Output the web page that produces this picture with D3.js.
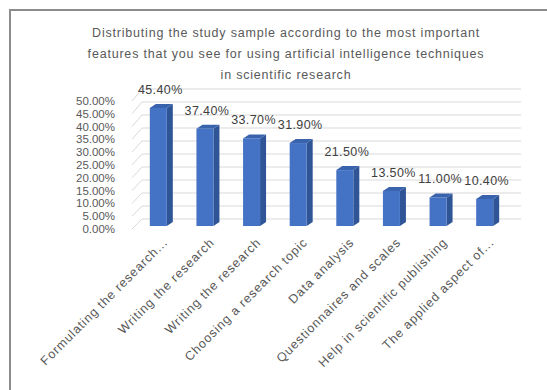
<!DOCTYPE html>
<html>
<head>
<meta charset="utf-8">
<script src="https://cdn.jsdelivr.net/npm/d3@7"></script>
<style>
    body { margin: 0; background: #fff; }
    text { font-family: "Liberation Sans", "DejaVu Sans", sans-serif; fill: #595959; }
</style>
</head>
<body>
<svg id="chart" width="547" height="390"></svg>
<script>
var categories = [
    'Formulating the research...',
    'Writing the research',
    'Writing the research',
    'Choosing a research topic',
    'Data analysis',
    'Questionnaires and scales',
    'Help in scientific publishing',
    'The applied aspect of...'
];
var values = [45.4, 37.4, 33.7, 31.9, 21.5, 13.5, 11.0, 10.4];
var ticks = [0, 5, 10, 15, 20, 25, 30, 35, 40, 45, 50];
var titleLines = [
    'Distributing the study sample  according to the most important',
    'features  that you see for using artificial  intelligence  techniques',
    'in scientific research'
];

(function(){
    var svg = d3.select('#chart'),
        depthX = 10,
        barW = 17,
        sideW = 6,
        topH = 4;

    // outer frame
    svg.append('rect')
        .attr('x', 10).attr('y', 10)
        .attr('width', 560).attr('height', 400)
        .attr('fill', '#fff')
        .attr('stroke', '#8c8c8c')
        .attr('stroke-width', 2);

    svg.append('g').selectAll('text')
        .data(titleLines)
        .enter().append('text')
        .attr('x', 286)
        .attr('y', function(d, i) { return 37 + i * 21; })
        .attr('text-anchor', 'middle')
        .style('font-size', '12.5px')
        .style('letter-spacing', '0.8px')
        .text(function(d) { return d; });

    var x = d3.scaleBand()
        .domain(d3.range(categories.length))
        .range([136, 509]);

    // front edge of the floor (tick labels), back wall, bar faces
    var yFront = d3.scaleLinear().domain([0, 50]).range([229, 101]);
    var yBack = d3.scaleLinear().domain([0, 50]).range([219, 89]);
    var yBar = d3.scaleLinear().domain([0, 50]).range([226, 96]);

    var grid = svg.append('g');
    grid.selectAll('line.h')
        .data(ticks)
        .enter().append('line')
        .attr('class', 'h')
        .attr('x1', 132 + depthX).attr('x2', 521)
        .attr('y1', function(d) { return yBack(d); })
        .attr('y2', function(d) { return yBack(d); })
        .attr('stroke', '#d9d9d9')
        .attr('stroke-width', 1);
    grid.selectAll('line.s')
        .data(ticks)
        .enter().append('line')
        .attr('class', 's')
        .attr('x1', 132).attr('x2', 132 + depthX)
        .attr('y1', function(d) { return yFront(d); })
        .attr('y2', function(d) { return yBack(d); })
        .attr('stroke', '#d9d9d9')
        .attr('stroke-width', 1);

    svg.append('g').selectAll('text')
        .data(ticks)
        .enter().append('text')
        .attr('x', 115)
        .attr('y', function(d) { return yFront(d); })
        .attr('dy', '0.35em')
        .attr('text-anchor', 'end')
        .style('font-size', '11.5px')
        .text(function(d) { return d.toFixed(2) + '%'; });

    var bars = svg.append('g').selectAll('g')
        .data(values)
        .enter().append('g');

    function left(i) { return x(i) + x.bandwidth() / 2 - (barW + sideW) / 2 + 2; }

    bars.append('path')
        .attr('fill', '#2f5597')
        .attr('d', function(d, i) {
            var x0 = left(i) + barW, t = yBar(d), b = yBar(0);
            return 'M' + x0 + ',' + t + 'L' + (x0 + sideW) + ',' + (t - topH) +
                'L' + (x0 + sideW) + ',' + (b - topH) + 'L' + x0 + ',' + b + 'Z';
        });
    bars.append('path')
        .attr('fill', '#3a63ad')
        .attr('d', function(d, i) {
            var x0 = left(i), t = yBar(d);
            return 'M' + x0 + ',' + t + 'L' + (x0 + sideW) + ',' + (t - topH) +
                'L' + (x0 + barW + sideW) + ',' + (t - topH) + 'L' + (x0 + barW) + ',' + t + 'Z';
        });
    bars.append('rect')
        .attr('fill', '#4472c4')
        .attr('x', function(d, i) { return left(i); })
        .attr('y', function(d) { return yBar(d); })
        .attr('width', barW)
        .attr('height', function(d) { return yBar(0) - yBar(d); });

    svg.append('g').selectAll('text')
        .data(values)
        .enter().append('text')
        .attr('x', function(d, i) { return x(i) + x.bandwidth() / 2 + 1; })
        .attr('y', function(d) { return yBar(d) - topH - 10; })
        .attr('text-anchor', 'middle')
        .style('font-size', '12.5px')
        .style('letter-spacing', '0.4px')
        .style('fill', '#404040')
        .text(function(d) { return d.toFixed(2) + '%'; });

    svg.append('g').selectAll('text')
        .data(categories)
        .enter().append('text')
        .attr('transform', function(d, i) {
            return 'translate(' + (x(i) + x.bandwidth() / 2 + 6) + ',240) rotate(-45)';
        })
        .attr('text-anchor', 'end')
        .attr('dy', '0.35em')
        .style('font-size', '12.5px')
        .style('letter-spacing', '0.9px')
        .text(function(d) { return d; });
})();
</script>
</body>
</html>
